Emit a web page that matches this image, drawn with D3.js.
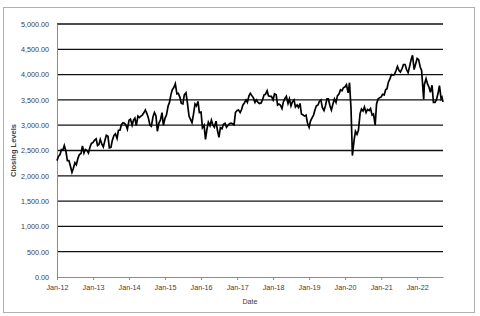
<!DOCTYPE html>
<html>
<head>
<meta charset="utf-8">
<script src="https://cdn.jsdelivr.net/npm/d3@7"></script>
<style>
  body { margin: 0; background: #fff; }
  text { font-family: "Liberation Sans", Arial, sans-serif; }
</style>
</head>
<body>
<div id="chart"></div>
<script>
// semi-monthly closing levels
var dates = [
  "2012-01-01","2012-01-15","2012-02-01","2012-02-15","2012-03-01","2012-03-15","2012-04-01","2012-04-15","2012-05-01","2012-05-15","2012-06-01","2012-06-15",
  "2012-07-01","2012-07-15","2012-08-01","2012-08-15","2012-09-01","2012-09-15","2012-10-01","2012-10-15","2012-11-01","2012-11-15","2012-12-01","2012-12-15",
  "2013-01-01","2013-01-15","2013-02-01","2013-02-15","2013-03-01","2013-03-15","2013-04-01","2013-04-15","2013-05-01","2013-05-15","2013-06-01","2013-06-15",
  "2013-07-01","2013-07-15","2013-08-01","2013-08-15","2013-09-01","2013-09-15","2013-10-01","2013-10-15","2013-11-01","2013-11-15","2013-12-01","2013-12-15",
  "2014-01-01","2014-01-15","2014-02-01","2014-02-15","2014-03-01","2014-03-15","2014-04-01","2014-04-15","2014-05-01","2014-05-15","2014-06-01","2014-06-15",
  "2014-07-01","2014-07-15","2014-08-01","2014-08-15","2014-09-01","2014-09-15","2014-10-01","2014-10-15","2014-11-01","2014-11-15","2014-12-01","2014-12-15",
  "2015-01-01","2015-01-15","2015-02-01","2015-02-15","2015-03-01","2015-03-15","2015-04-01","2015-04-15","2015-05-01","2015-05-15","2015-06-01","2015-06-15",
  "2015-07-01","2015-07-15","2015-08-01","2015-08-15","2015-09-01","2015-09-15","2015-10-01","2015-10-15","2015-11-01","2015-11-15","2015-12-01","2015-12-15",
  "2016-01-01","2016-01-15","2016-02-01","2016-02-15","2016-03-01","2016-03-15","2016-04-01","2016-04-15","2016-05-01","2016-05-15","2016-06-01","2016-06-15",
  "2016-07-01","2016-07-15","2016-08-01","2016-08-15","2016-09-01","2016-09-15","2016-10-01","2016-10-15","2016-11-01","2016-11-15","2016-12-01","2016-12-15",
  "2017-01-01","2017-01-15","2017-02-01","2017-02-15","2017-03-01","2017-03-15","2017-04-01","2017-04-15","2017-05-01","2017-05-15","2017-06-01","2017-06-15",
  "2017-07-01","2017-07-15","2017-08-01","2017-08-15","2017-09-01","2017-09-15","2017-10-01","2017-10-15","2017-11-01","2017-11-15","2017-12-01","2017-12-15",
  "2018-01-01","2018-01-15","2018-02-01","2018-02-15","2018-03-01","2018-03-15","2018-04-01","2018-04-15","2018-05-01","2018-05-15","2018-06-01","2018-06-15",
  "2018-07-01","2018-07-15","2018-08-01","2018-08-15","2018-09-01","2018-09-15","2018-10-01","2018-10-15","2018-11-01","2018-11-15","2018-12-01","2018-12-15",
  "2019-01-01","2019-01-15","2019-02-01","2019-02-15","2019-03-01","2019-03-15","2019-04-01","2019-04-15","2019-05-01","2019-05-15","2019-06-01","2019-06-15",
  "2019-07-01","2019-07-15","2019-08-01","2019-08-15","2019-09-01","2019-09-15","2019-10-01","2019-10-15","2019-11-01","2019-11-15","2019-12-01","2019-12-15",
  "2020-01-01","2020-01-15","2020-02-01","2020-02-15","2020-03-01","2020-03-15","2020-04-01","2020-04-15","2020-05-01","2020-05-15","2020-06-01","2020-06-15",
  "2020-07-01","2020-07-15","2020-08-01","2020-08-15","2020-09-01","2020-09-15","2020-10-01","2020-10-15","2020-11-01","2020-11-15","2020-12-01","2020-12-15",
  "2021-01-01","2021-01-15","2021-02-01","2021-02-15","2021-03-01","2021-03-15","2021-04-01","2021-04-15","2021-05-01","2021-05-15","2021-06-01","2021-06-15",
  "2021-07-01","2021-07-15","2021-08-01","2021-08-15","2021-09-01","2021-09-15","2021-10-01","2021-10-15","2021-11-01","2021-11-15","2021-12-01","2021-12-15",
  "2022-01-01","2022-01-15","2022-02-01","2022-02-15","2022-03-01","2022-03-08","2022-03-15","2022-04-01","2022-04-15","2022-05-01","2022-05-15","2022-06-01",
  "2022-06-15","2022-07-01","2022-07-15","2022-08-01","2022-08-15","2022-09-01","2022-09-10","2022-09-20"
];
var closes = [
  2300,2380,2420,2520,2510,2600,2480,2300,2300,2200,2070,2150,
  2260,2220,2350,2420,2440,2590,2450,2520,2500,2450,2570,2640,
  2660,2700,2730,2600,2620,2720,2620,2570,2700,2800,2780,2550,
  2560,2700,2800,2830,2740,2900,2900,3010,3050,3040,3000,2920,
  3100,3120,3000,3100,3140,2990,3180,3150,3180,3200,3250,3300,
  3230,3150,3000,2980,3170,3250,3180,2880,3050,3100,3250,3000,
  3140,3200,3380,3450,3600,3700,3750,3820,3620,3630,3550,3430,
  3420,3600,3640,3450,3180,3120,3050,3200,3420,3380,3470,3250,
  3260,2950,3000,2720,2920,3060,2990,3100,3000,2960,3080,2900,
  2760,2950,2930,3020,3040,2960,3000,3030,3040,3030,3010,3250,
  3290,3300,3250,3310,3400,3440,3500,3450,3580,3630,3580,3540,
  3450,3500,3450,3430,3440,3500,3600,3610,3680,3580,3570,3570,
  3500,3620,3600,3400,3420,3400,3330,3460,3530,3570,3430,3520,
  3380,3460,3500,3360,3400,3350,3430,3220,3200,3180,3200,3050,
  2960,3080,3150,3200,3300,3380,3400,3470,3500,3350,3290,3380,
  3520,3520,3380,3300,3430,3520,3450,3580,3620,3700,3680,3740,
  3760,3800,3640,3840,3330,2400,2700,2880,2820,2900,3230,3320,
  3280,3360,3250,3310,3290,3330,3200,3220,3000,3420,3520,3540,
  3560,3610,3600,3700,3720,3850,3920,4000,3990,4000,4080,4160,
  4080,4050,4120,4200,4200,4100,4040,4150,4300,4380,4100,4200,
  4320,4300,4150,4080,3700,3510,3800,3920,3820,3750,3650,3790,
  3450,3450,3500,3630,3780,3520,3550,3460
];
var yTicks = [0, 500, 1000, 1500, 2000, 2500, 3000, 3500, 4000, 4500, 5000];
var xStart = "2012-01-01", xEnd = "2022-09-20";

var svgWidth = 480;
var svgHeight = 316;
var margin = { top: 24, right: 37, bottom: 39, left: 57 };
var width = svgWidth - margin.left - margin.right;
var height = svgHeight - margin.top - margin.bottom;

var parseDate = d3.timeParse("%Y-%m-%d");
var series = dates.map(function(d, i) { return { date: parseDate(d), close: closes[i] }; });

var svg = d3.select("#chart")
  .append("svg")
  .attr("width", svgWidth)
  .attr("height", svgHeight);

// outer frame
svg.append("rect")
  .attr("x", 3.5).attr("y", 7.5)
  .attr("width", 471).attr("height", 305)
  .attr("fill", "none")
  .attr("stroke", "#b0b0b0");

var chartGroup = svg.append("g")
  .attr("transform", `translate(${margin.left}, ${margin.top})`);

var xScale = d3.scaleTime()
  .domain([parseDate(xStart), parseDate(xEnd)])
  .range([0, width]);

var yScale = d3.scaleLinear()
  .domain([0, 5000])
  .range([height, 0]);

// gridlines
chartGroup.selectAll(".grid")
  .data(yTicks.filter(d => d > 0))
  .enter()
  .append("line")
  .attr("x1", 0)
  .attr("x2", width)
  .attr("y1", d => yScale(d))
  .attr("y2", d => yScale(d))
  .attr("stroke", "#111")
  .attr("stroke-width", 1.3);

// y axis
var leftAxis = d3.axisLeft(yScale)
  .tickValues(yTicks)
  .tickFormat(d3.format(",.2f"))
  .tickSize(0)
  .tickPadding(8);

var yAxisG = chartGroup.append("g").call(leftAxis);
yAxisG.select(".domain").attr("stroke", "#8c8c8c");
yAxisG.selectAll("text").style("font-size", "7.2px").attr("fill", "#404040");

// x axis
var bottomAxis = d3.axisBottom(xScale)
  .ticks(d3.timeYear.every(1))
  .tickFormat(d3.timeFormat("%b-%y"))
  .tickSizeInner(3)
  .tickSizeOuter(0)
  .tickPadding(5);

var xAxisG = chartGroup.append("g")
  .attr("transform", `translate(0, ${height})`)
  .call(bottomAxis);
xAxisG.select(".domain").attr("stroke", "#8c8c8c");
xAxisG.selectAll("line").attr("stroke", "#8c8c8c");
xAxisG.selectAll("text").style("font-size", "7.2px").attr("fill", "#404040");

// the index line
var line = d3.line()
  .x(d => xScale(d.date))
  .y(d => yScale(d.close));

chartGroup.append("path")
  .datum(series)
  .attr("fill", "none")
  .attr("stroke", "#000")
  .attr("stroke-width", 1.7)
  .attr("stroke-linejoin", "miter")
  .attr("d", line);

// axis titles
chartGroup.append("text")
  .attr("transform", "rotate(-90)")
  .attr("x", -height / 2)
  .attr("y", -margin.left + 16)
  .attr("text-anchor", "middle")
  .style("font-size", "7.5px")
  .style("font-weight", "bold")
  .attr("fill", "#404040")
  .text("Closing Levels");

chartGroup.append("text")
  .attr("x", width / 2)
  .attr("y", height + 27)
  .attr("text-anchor", "middle")
  .style("font-size", "7.2px")
  .attr("fill", "#404040")
  .text("Date");
</script>
</body>
</html>
